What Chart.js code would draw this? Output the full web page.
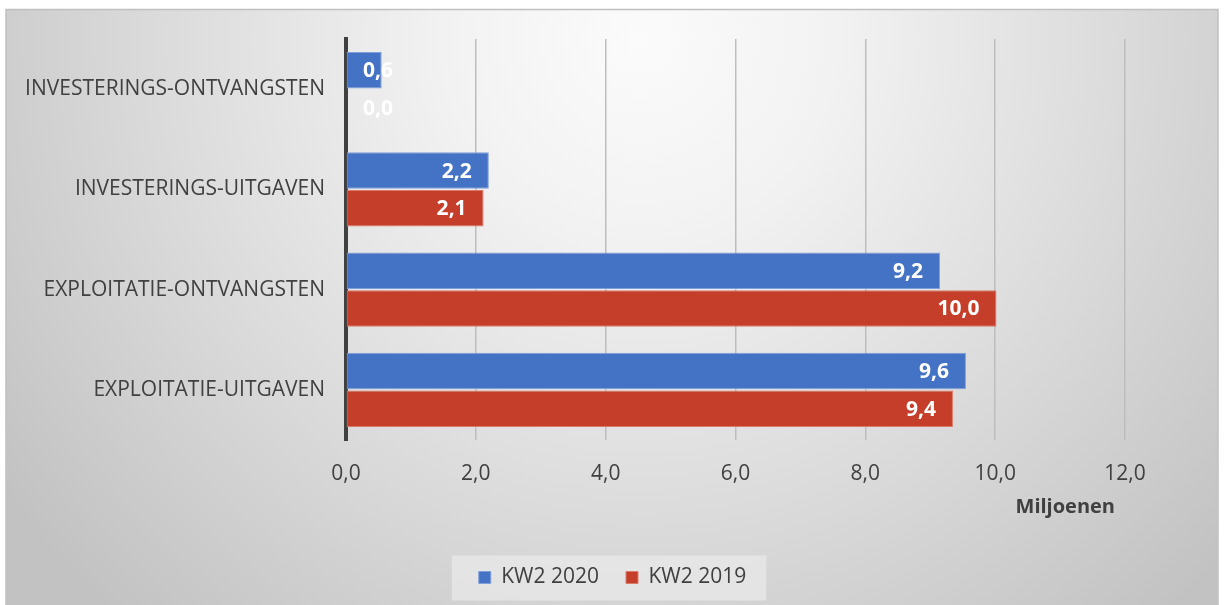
<!DOCTYPE html>
<html>
<head>
<meta charset="utf-8">
<script src="https://cdn.jsdelivr.net/npm/chart.js@4.4.1/dist/chart.umd.min.js"></script>
<style>
  html, body { margin: 0; padding: 0; background: #ffffff; }
  #wrap { position: relative; width: 1225px; height: 605px; }
</style>
</head>
<body>
<div id="wrap"><canvas id="c" width="1225" height="605"></canvas></div>
<script>
const categories = ['INVESTERINGS-ONTVANGSTEN', 'INVESTERINGS-UITGAVEN', 'EXPLOITATIE-ONTVANGSTEN', 'EXPLOITATIE-UITGAVEN'];
const kw2020 = [0.55, 2.2, 9.15, 9.55];
const kw2019 = [0.0, 2.12, 10.02, 9.35];
const labels2020 = ['0,6', '2,2', '9,2', '9,6'];
const labels2019 = ['0,0', '2,1', '10,0', '9,4'];
const seriesNames = ['KW2 2020', 'KW2 2019'];
const xTicks = [0, 2, 4, 6, 8, 10, 12];
const unitLabel = 'Miljoenen';

const FONT = "'Open Sans', 'DejaVu Sans', sans-serif";
const TEXT = '#404040';

const bgPlugin = {
  id: 'bg',
  beforeDraw(chart) {
    const ctx = chart.ctx;
    ctx.save();
    ctx.fillStyle = '#ffffff';
    ctx.fillRect(0, 0, chart.width, chart.height);
    const g = ctx.createRadialGradient(640, 40, 0, 640, 40, 780);
    g.addColorStop(0, '#fbfbfb');
    g.addColorStop(0.25, '#f2f2f2');
    g.addColorStop(0.6, '#dcdcdc');
    g.addColorStop(1, '#c2c2c2');
    ctx.fillStyle = g;
    ctx.fillRect(6, 9, 1212, 600);
    ctx.strokeStyle = '#c0c0c0';
    ctx.lineWidth = 1.5;
    ctx.strokeRect(6, 9.5, 1212, 600);
    // legend background
    const lg = chart.legend;
    if (lg && lg.legendHitBoxes && lg.legendHitBoxes.length) {
      const hb = lg.legendHitBoxes;
      const first = hb[0], last = hb[hb.length - 1];
      const cy = first.top + first.height / 2;
      ctx.fillStyle = 'rgba(240,240,240,0.55)';
      ctx.fillRect(first.left - 27, cy - 22, (last.left + last.width) - first.left + 47, 45);
    }
    ctx.restore();
  }
};

const labelPlugin = {
  id: 'barLabels',
  afterDatasetsDraw(chart) {
    const ctx = chart.ctx;
    const x0 = chart.scales.x.getPixelForValue(0);
    ctx.save();
    ctx.font = "bold 21px " + FONT;
    ctx.fillStyle = '#ffffff';
    ctx.textBaseline = 'middle';
    ctx.textAlign = 'left';
    const allLabels = [labels2020, labels2019];
    chart.data.datasets.forEach((ds, di) => {
      const meta = chart.getDatasetMeta(di);
      meta.data.forEach((bar, i) => {
        const txt = allLabels[di][i];
        const w = ctx.measureText(txt).width;
        const left = Math.max(bar.x - 17 - w, x0 + 17);
        ctx.fillText(txt, left, bar.y + 1);
      });
    });
    // unit label
    ctx.font = "bold 20px " + FONT;
    ctx.fillStyle = TEXT;
    ctx.textAlign = 'right';
    ctx.fillText(unitLabel, chart.scales.x.getPixelForValue(12) - 10, 507);
    ctx.restore();
  }
};

new Chart(document.getElementById('c'), {
  type: 'bar',
  data: {
    labels: categories,
    datasets: [
      { label: seriesNames[0], data: kw2020, backgroundColor: '#4472C4', borderColor: '#7f9fda', borderWidth: 1, borderSkipped: false },
      { label: seriesNames[1], data: kw2019, backgroundColor: '#C43E29', borderColor: '#dc7a6a', borderWidth: 1, borderSkipped: false }
    ]
  },
  options: {
    indexAxis: 'y',
    responsive: false,
    animation: false,
    devicePixelRatio: 1,
    layout: { padding: { left: 0, top: 39, right: 0, bottom: 7 } },
    datasets: { bar: { categoryPercentage: 0.75, barPercentage: 0.97 } },
    scales: {
      x: {
        min: 0, max: 12,
        afterBuildTicks(scale) { scale.ticks = xTicks.map(v => ({ value: v })); },
        afterFit(scale) { scale.height = 100; },
        grid: { color: '#bdbdbd', lineWidth: 1.5, drawTicks: false },
        border: { display: false },
        ticks: {
          color: TEXT, font: { family: FONT, size: 21 }, padding: 21,
          callback: (v) => Number(v).toFixed(1).replace('.', ',')
        }
      },
      y: {
        afterFit(scale) { scale.width = 346; },
        grid: { display: false, drawTicks: false },
        border: { display: true, color: '#404040', width: 4 },
        ticks: { color: TEXT, font: { family: FONT, size: 21 }, padding: 21 }
      },
      y2: {
        type: 'category',
        position: 'right',
        labels: categories,
        afterFit(scale) { scale.width = 100; },
        grid: { display: false, drawTicks: false },
        border: { display: false },
        ticks: { display: false }
      }
    },
    plugins: {
      legend: {
        position: 'bottom',
        labels: {
          color: TEXT, font: { family: FONT, size: 21 },
          boxWidth: 12, boxHeight: 12, padding: 27
        }
      },
      tooltip: { enabled: false }
    }
  },
  plugins: [bgPlugin, labelPlugin]
});
</script>
</body>
</html>
